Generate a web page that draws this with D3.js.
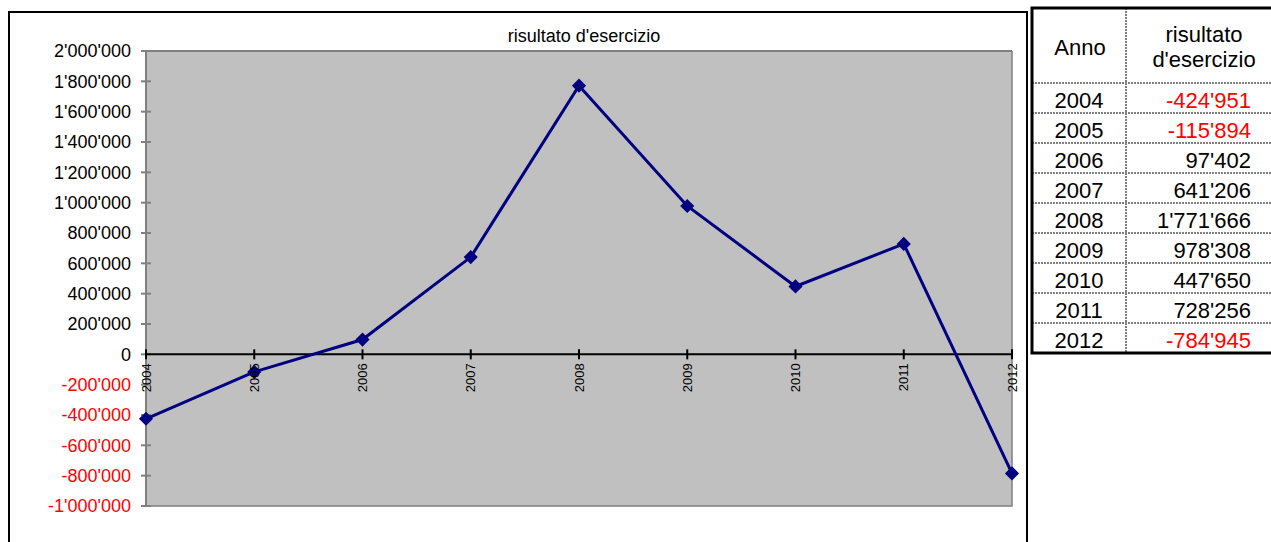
<!DOCTYPE html>
<html><head><meta charset="utf-8">
<script src="https://cdn.jsdelivr.net/npm/d3@7"></script>
<style>
body{margin:0;background:#fff;}
svg{display:block;font-family:"Liberation Sans",Arial,sans-serif;}
</style></head>
<body>
<svg id="c" width="1271" height="542"></svg>
<script>
const years = ["2004","2005","2006","2007","2008","2009","2010","2011","2012"];
const values = [-424951,-115894,97402,641206,1771666,978308,447650,728256,-784945];
const yTicks = [2000000,1800000,1600000,1400000,1200000,1000000,800000,600000,400000,200000,0,-200000,-400000,-600000,-800000,-1000000];
const title = "risultato d'esercizio";
const tableHead = ["Anno", ["risultato","d'esercizio"]];

const fmt = v => {
  const s = Math.abs(v).toString().replace(/\B(?=(\d{3})+(?!\d))/g, "'");
  return (v < 0 ? "-" : "") + s;
};

const svg = d3.select("#c");
const L = 146, R = 1012, T = 51, B = 506;

// outer chart frame
svg.append("path").attr("d", `M9,560 V12 H1027 V560`).attr("fill","none").attr("stroke","#000").attr("stroke-width",2);

// plot area
svg.append("rect").attr("x",L).attr("y",T).attr("width",R-L).attr("height",B-T).attr("fill","#c0c0c0");
svg.append("path").attr("d",`M${L},${B} V${T} H${R}`).attr("fill","none").attr("stroke","#808080").attr("stroke-width",2);
svg.append("path").attr("d",`M${L},${B} H${R} V${T}`).attr("fill","none").attr("stroke","#808080").attr("stroke-width",1.5);

const x = d3.scalePoint().domain(years).range([L,R]);
const y = d3.scaleLinear().domain([-1000000,2000000]).range([B,T]);

// y axis ticks & labels
const ya = svg.append("g");
ya.selectAll("line").data(yTicks).join("line")
  .attr("x1",L-5).attr("x2",L+5).attr("y1",d=>y(d)).attr("y2",d=>y(d))
  .attr("stroke","#808080").attr("stroke-width",2);
ya.selectAll("text").data(yTicks).join("text")
  .attr("x",131).attr("y",d=>y(d)).attr("dy","0.36em").attr("text-anchor","end")
  .attr("font-size",18).attr("fill",d=>d<0?"#ff0000":"#000").text(d=>fmt(d));

// zero line with category ticks
svg.append("line").attr("x1",L).attr("x2",R).attr("y1",y(0)).attr("y2",y(0)).attr("stroke","#000").attr("stroke-width",2);
svg.append("g").selectAll("line").data(years).join("line")
  .attr("x1",d=>x(d)).attr("x2",d=>x(d)).attr("y1",y(0)-5).attr("y2",y(0)+5)
  .attr("stroke","#000").attr("stroke-width",2);

// line + markers
const pts = years.map((yr,i)=>[x(yr), y(values[i])]);
svg.append("path").attr("d", d3.line()(pts)).attr("fill","none").attr("stroke","#000080").attr("stroke-width",3);
svg.append("g").selectAll("path").data(pts).join("path")
  .attr("d", d3.symbol().type(d3.symbolSquare).size(100))
  .attr("transform", d=>`translate(${d[0]},${d[1]}) rotate(45)`)
  .attr("fill","#000080");

// x labels (rotated)
svg.append("g").selectAll("text").data(years).join("text")
  .attr("transform", d=>`translate(${x(d)+4.5},${y(0)+9}) rotate(-90)`)
  .attr("text-anchor","end").attr("font-size",13).attr("fill","#000").text(d=>d);

// title
svg.append("text").attr("x",584).attr("y",42).attr("text-anchor","middle").attr("font-size",18).text(title);

// table
const tx0 = 1032, tx1 = 1126, tx2 = 1290, ty0 = 8, hh = 75, rh = 30;
const nRows = years.length;
const tb = svg.append("g");
const rowY = i => ty0 + hh + i*rh;
tb.selectAll("line.r").data(d3.range(nRows)).join("line").attr("class","r")
  .attr("x1",tx0).attr("x2",tx2).attr("y1",i=>rowY(i)).attr("y2",i=>rowY(i))
  .attr("stroke","#808080").attr("stroke-width",2).attr("stroke-dasharray","2,1");
tb.append("line").attr("x1",tx1).attr("x2",tx1).attr("y1",ty0).attr("y2",rowY(nRows))
  .attr("stroke","#808080").attr("stroke-width",2).attr("stroke-dasharray","2,1");
tb.append("path").attr("d",`M${tx2},${ty0} H${tx0} V${rowY(nRows)} H${tx2}`).attr("fill","none").attr("stroke","#000").attr("stroke-width",3);
tb.append("text").attr("x",1080).attr("y",55).attr("text-anchor","middle").attr("font-size",22).text(tableHead[0]);
tb.append("text").attr("x",1204).attr("y",42).attr("text-anchor","middle").attr("font-size",22).text(tableHead[1][0]);
tb.append("text").attr("x",1204).attr("y",67).attr("text-anchor","middle").attr("font-size",22).text(tableHead[1][1]);
tb.selectAll("text.y").data(years).join("text").attr("class","y")
  .attr("x",1079).attr("y",(d,i)=>rowY(i)+rh/2).attr("dy","0.44em").attr("text-anchor","middle").attr("font-size",22).text(d=>d);
tb.selectAll("text.v").data(values).join("text").attr("class","v")
  .attr("x",1251).attr("y",(d,i)=>rowY(i)+rh/2).attr("dy","0.44em").attr("text-anchor","end").attr("font-size",22)
  .attr("fill",d=>d<0?"#ff0000":"#000").text(d=>fmt(d));
</script>
</body></html>
